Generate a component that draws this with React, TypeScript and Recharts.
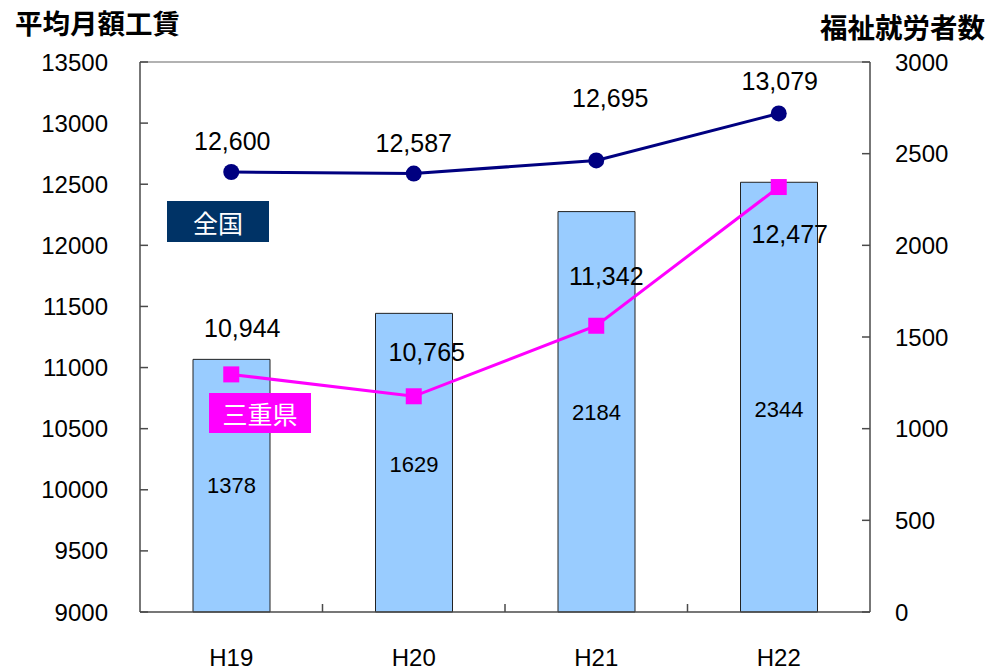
import React from 'react';
import { ComposedChart, Bar, Line, XAxis, YAxis, LabelList, ReferenceLine } from 'recharts';

const years = ['H19', 'H20', 'H21', 'H22'];
const workers = [1378, 1629, 2184, 2344];
const national = [12600, 12587, 12695, 13079];
const mie = [10944, 10765, 11342, 12477];

const leftTicks = [9000, 9500, 10000, 10500, 11000, 11500, 12000, 12500, 13000, 13500];
const rightTicks = [0, 500, 1000, 1500, 2000, 2500, 3000];

// label nudges (px) relative to each point
const nationalLabelOffset = [[1, -31], [0, -31], [14, -62], [1, -32]];
const mieLabelOffset = [[11, -46], [13, -44], [10, -50], [11, 47]];
const barLabelOffset = [0, 2, 1, 12];

const data = years.map((y, i) => ({
  year: y,
  workers: workers[i],
  national: national[i],
  mie: mie[i],
}));

const FONT = '"Liberation Sans", Arial, sans-serif';
const CJK = '"Noto Sans CJK JP", sans-serif';
const AXIS = '#4a4a4a';
const INK = '#000';
const fmt = (v: number) => v.toLocaleString('en-US');

const LeftTick = (props: any) => {
  const { x, y, payload } = props;
  return (
    <g>
      <line x1={x + 32} x2={x + 40} y1={y} y2={y} stroke={AXIS} strokeWidth={1.5} />
      <text x={x} y={y} textAnchor="end" dominantBaseline="central" fontFamily={FONT} fontSize={24} fill={INK}>
        {payload.value}
      </text>
    </g>
  );
};

const RightTick = (props: any) => {
  const { x, y, payload } = props;
  return (
    <g>
      <line x1={x - 33} x2={x - 25} y1={y} y2={y} stroke={AXIS} strokeWidth={1.5} />
      <text x={x} y={y} textAnchor="start" dominantBaseline="central" fontFamily={FONT} fontSize={24} fill={INK}>
        {payload.value}
      </text>
    </g>
  );
};

const BottomTick = (props: any) => {
  const { x, y, payload, index } = props;
  const half = payload.offset || 91.25;
  return (
    <g>
      {index < years.length - 1 && (
        <line x1={x + half} x2={x + half} y1={y - 45} y2={y - 53} stroke={AXIS} strokeWidth={1.5} />
      )}
      <text x={x} y={y} textAnchor="middle" dominantBaseline="central" fontFamily={FONT} fontSize={24} fill={INK}>
        {payload.value}
      </text>
    </g>
  );
};

const NationalLabel = (props: any) => {
  const { x, y, value, index } = props;
  const [dx, dy] = nationalLabelOffset[index];
  const cx = x + dx;
  const cy = y + dy;
  return (
    <g>
      <rect x={cx - 42} y={cy - 13} width={84} height={26} fill="#fff" />
      <text x={cx} y={cy} textAnchor="middle" dominantBaseline="central" fontFamily={FONT} fontSize={25} fill={INK}>
        {fmt(value)}
      </text>
    </g>
  );
};

const MieLabel = (props: any) => {
  const { x, y, value, index } = props;
  const [dx, dy] = mieLabelOffset[index];
  return (
    <text x={x + dx} y={y + dy} textAnchor="middle" dominantBaseline="central" fontFamily={FONT} fontSize={25} fill={INK}>
      {fmt(value)}
    </text>
  );
};

const BarLabel = (props: any) => {
  const { x, y, width, height, value, index } = props;
  return (
    <text
      x={x + width / 2}
      y={y + height / 2 + barLabelOffset[index]}
      textAnchor="middle"
      dominantBaseline="central"
      fontFamily={FONT}
      fontSize={22}
      fill={INK}
    >
      {value}
    </text>
  );
};

const SquareDot = (props: any) => {
  const { cx, cy } = props;
  return <rect x={cx - 8} y={cy - 8} width={16} height={16} fill="#ff00ff" />;
};

export default function App() {
  return (
    <div style={{ position: 'absolute', left: 0, top: 0, width: 988, height: 670, background: '#fff' }}>
      <ComposedChart width={988} height={670} data={data} margin={{ top: 62, right: 0, bottom: 0, left: 0 }} barSize={77}>
        <ReferenceLine yAxisId="left" y={13500} stroke="#999" strokeWidth={1.5} />
        <XAxis
          dataKey="year"
          height={58}
          tickSize={0}
          tickMargin={45}
          tickLine={false}
          stroke={AXIS}
          strokeWidth={1.5}
          tick={<BottomTick />}
          interval={0}
        />
        <YAxis
          yAxisId="left"
          orientation="left"
          width={140}
          domain={[9000, 13500]}
          ticks={leftTicks}
          interval={0}
          tickSize={0}
          tickMargin={32}
          tickLine={false}
          stroke={AXIS}
          strokeWidth={1.5}
          tick={<LeftTick />}
        />
        <YAxis
          yAxisId="right"
          orientation="right"
          width={118}
          domain={[0, 3000]}
          ticks={rightTicks}
          interval={0}
          tickSize={0}
          tickMargin={25}
          tickLine={false}
          stroke={AXIS}
          strokeWidth={1.5}
          tick={<RightTick />}
        />
        <Bar yAxisId="right" dataKey="workers" fill="#99ccff" stroke="#222" strokeWidth={1} isAnimationActive={false}>
          <LabelList dataKey="workers" content={<BarLabel />} />
        </Bar>
        <Line
          yAxisId="left"
          dataKey="mie"
          stroke="#ff00ff"
          strokeWidth={3}
          dot={<SquareDot />}
          activeDot={false}
          isAnimationActive={false}
        >
          <LabelList dataKey="mie" content={<MieLabel />} />
        </Line>
        <Line
          yAxisId="left"
          dataKey="national"
          stroke="#000080"
          strokeWidth={3}
          dot={{ r: 8, fill: '#000080', stroke: '#000080', strokeWidth: 0 }}
          activeDot={false}
          isAnimationActive={false}
        >
          <LabelList dataKey="national" content={<NationalLabel />} />
        </Line>
      </ComposedChart>

      <div style={{ position: 'absolute', left: 15, top: 5, fontFamily: CJK, fontWeight: 700, fontSize: 27.5, color: INK, lineHeight: '34px' }}>
        平均月額工賃
      </div>
      <div style={{ position: 'absolute', left: 820, top: 9, fontFamily: CJK, fontWeight: 700, fontSize: 27.5, color: INK, lineHeight: '34px' }}>
        福祉就労者数
      </div>
      <div
        style={{
          position: 'absolute', left: 167, top: 201, width: 102, height: 41, background: '#003366',
          color: '#fff', fontFamily: CJK, fontSize: 25, display: 'flex', alignItems: 'center', justifyContent: 'center',
        }}
      >
        全国
      </div>
      <div
        style={{
          position: 'absolute', left: 209, top: 393, width: 102, height: 40, background: '#ff00ff',
          color: '#fff', fontFamily: CJK, fontSize: 25, display: 'flex', alignItems: 'center', justifyContent: 'center',
        }}
      >
        三重県
      </div>
    </div>
  );
}
